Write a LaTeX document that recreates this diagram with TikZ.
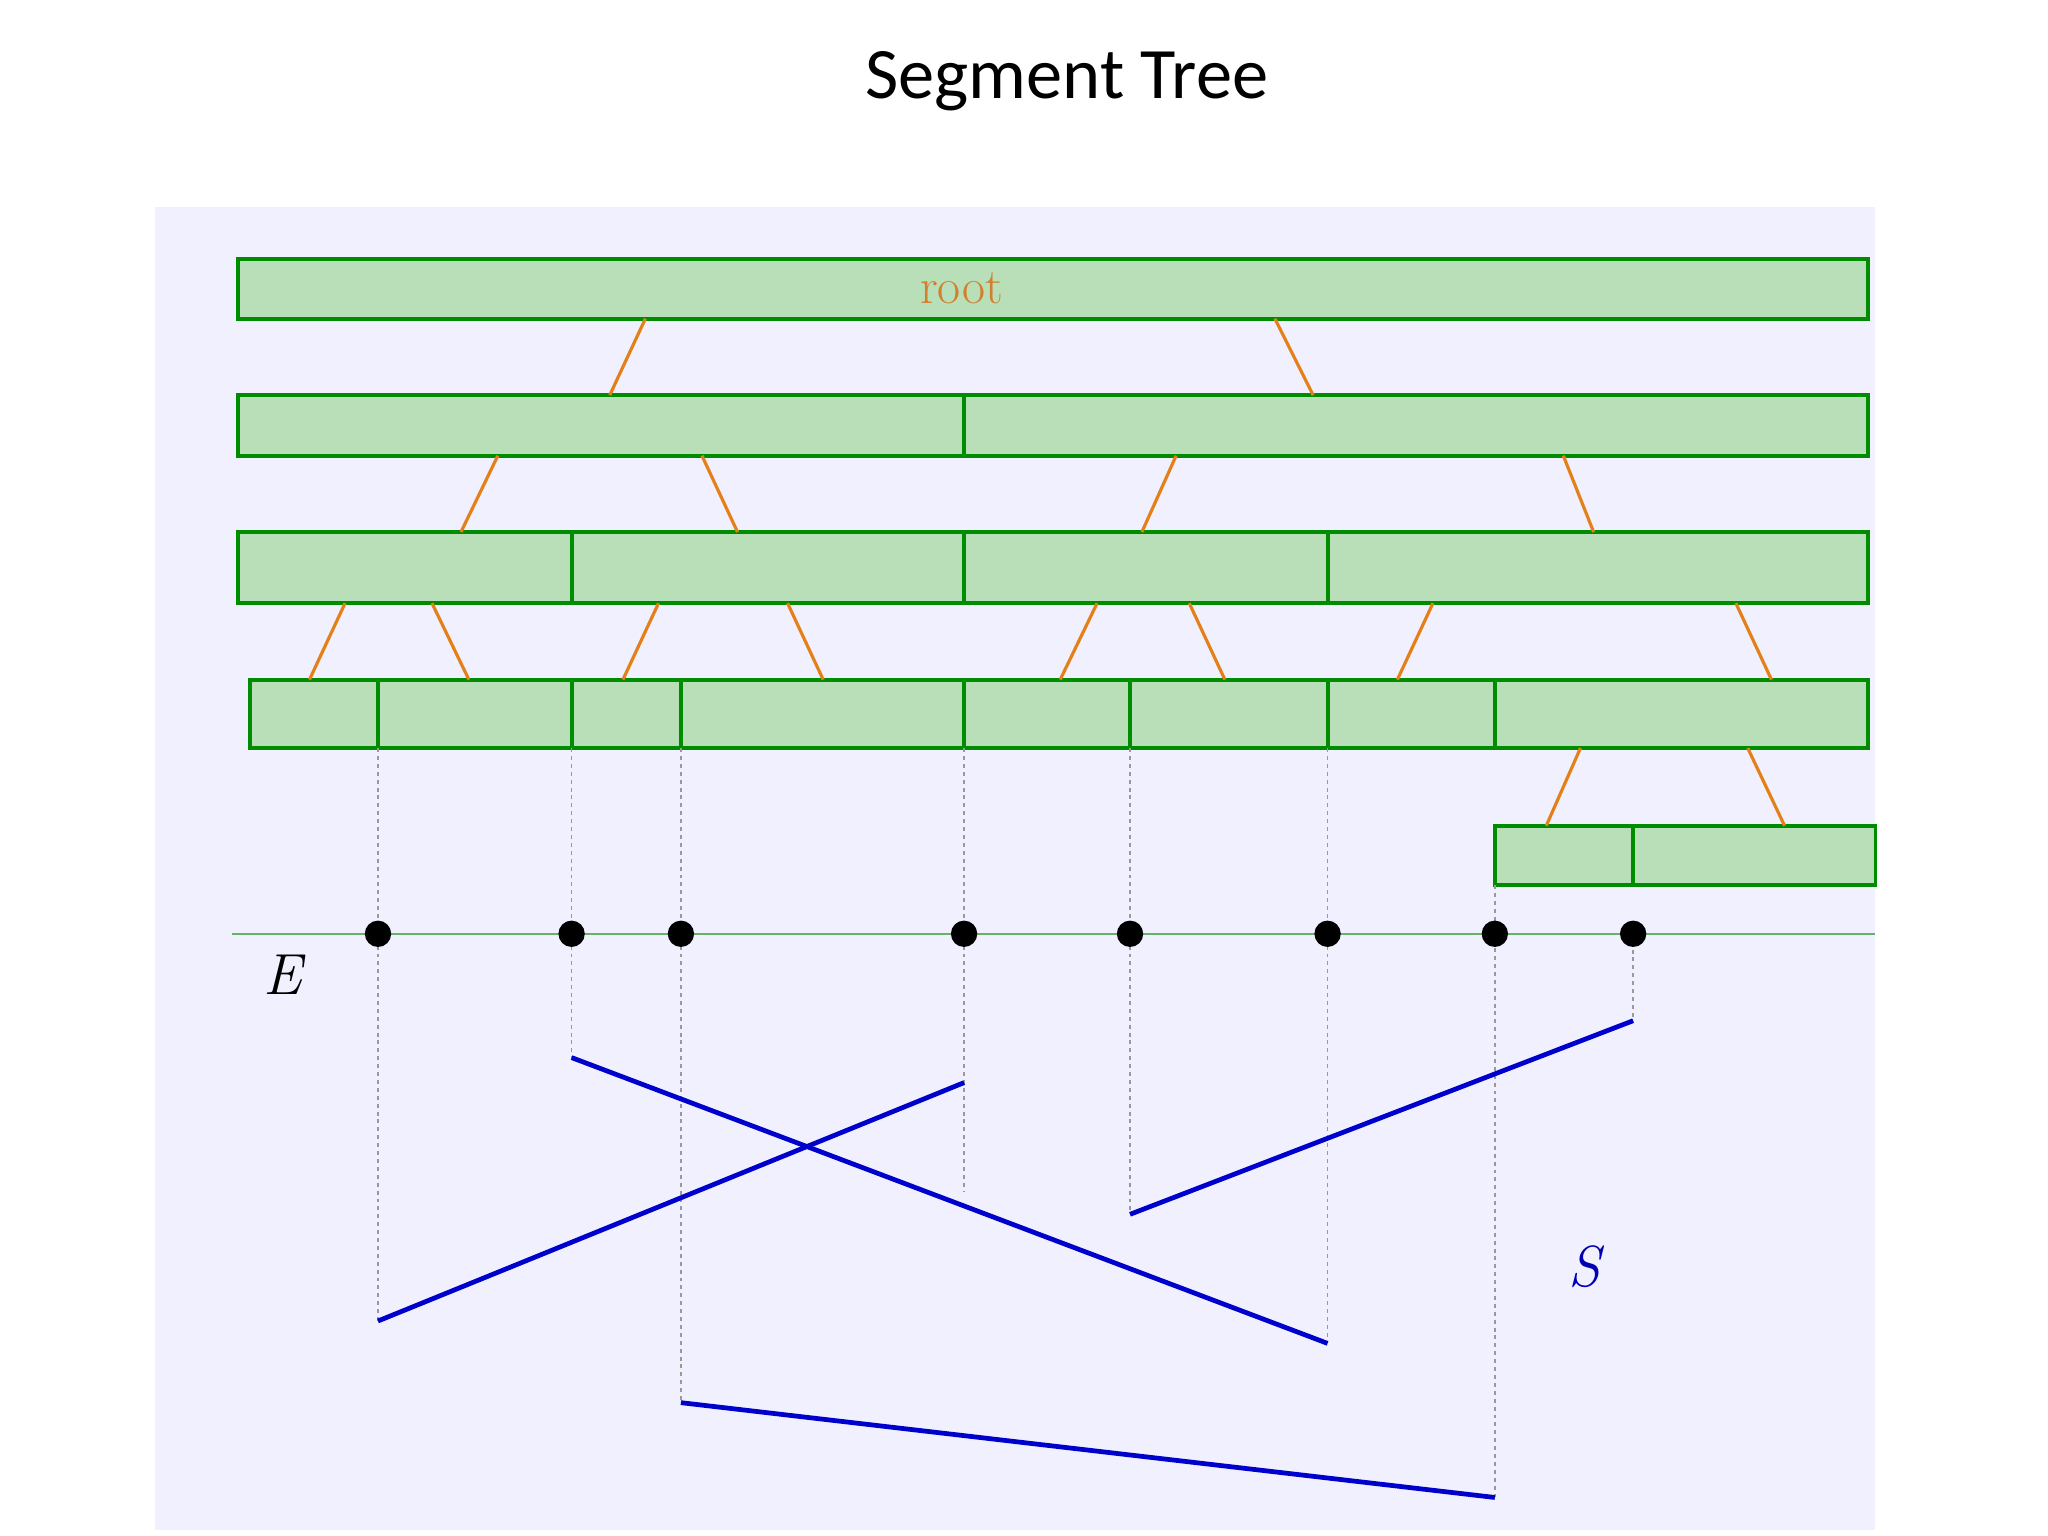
\documentclass[tikz,border=0pt]{standalone}
\usepackage{fontspec}
\newfontfamily\titlefont{Carlito}
\begin{document}
\begin{tikzpicture}[x=1pt,y=-1pt,
  bar/.style={fill=green!55!black!28!white,draw=green!55!black,line width=3pt},
  brk/.style={draw=green!55!black,line width=3pt},
  tedge/.style={draw=orange!60!brown,line width=2.4pt},
  dashv/.style={draw=gray!80,dashed,line width=1.3pt},
  seg/.style={draw=blue!80!black,line width=3.6pt},
  dot/.style={circle,fill=black,inner sep=0pt,minimum size=20pt}]
\useasboundingbox (0,0) rectangle (1555,1166);
\fill[white] (0,0) rectangle (1555,1166);
\fill[blue!6!white] (118,157) rectangle (1424,1162);
\node[font=\titlefont\fontsize{55}{64}\selectfont] (title) at (810,62) {Segment Tree};
% bars
\draw[bar] (181,197) rectangle (1418,242);
\node[text=brown!70!orange,font=\fontsize{38}{40}\selectfont] (root) at (730,219) {root};
\draw[bar] (181,300) rectangle (1418,346);
\draw[brk] (732,300)--(732,346);
\draw[bar] (181,404) rectangle (1418,458);
\foreach \x in {434,732,1008} \draw[brk] (\x,404)--(\x,458);
\draw[bar] (190,516) rectangle (1418,568);
\foreach \x in {287,434,517,732,858,1008,1135} \draw[brk] (\x,516)--(\x,568);
\draw[bar] (1135,627) rectangle (1424,672);
\draw[brk] (1240,627)--(1240,672);
% tree edges
\foreach \a/\b/\c/\d in {490/242/463/300, 968/242/997/300,
  378/346/350/404, 533/346/560/404, 893/346/867/404, 1187/346/1210/404,
  262/458/235/516, 328/458/356/516, 500/458/473/516, 598/458/625/516,
  833/458/805/516, 903/458/930/516, 1088/458/1061/516, 1318/458/1345/516,
  1200/568/1174/627, 1327/568/1355/627}
  \draw[tedge] (\a,\b)--(\c,\d);
% E line
\coordinate (eL) at (176,709); \coordinate (eR) at (1424,709);
\draw[green!50!black!60,line width=1.5pt] (eL)--(eR);
\node[font=\itshape\fontsize{44}{46}\selectfont] (E) at (215,740) {E};
% dashed lines & endpoints
\foreach \n/\x/\t/\b in {a/287/568/1003, b/434/568/803, c/517/568/1065, d/732/568/905,
  e/858/568/922, f/1008/568/1020, g/1135/672/1137, h/1240/709/775}{
  \coordinate (\n top) at (\x,\t);
  \coordinate (\n bot) at (\x,\b);
  \draw[dashv] (\n top)--(\n bot);
}
\foreach \n/\x in {a/287,b/434,c/517,d/732,e/858,f/1008,g/1135,h/1240}
  \node[dot] (dot\n) at (\x,709) {};
% segments
\coordinate (d1) at (732,822);
\draw[seg] (abot)--(d1);
\draw[seg] (bbot)--(fbot);
\draw[seg] (ebot)--(hbot);
\draw[seg] (cbot)--(gbot);
\node[text=blue!70!black,font=\itshape\fontsize{44}{46}\selectfont] (S) at (1203,962) {S};
\end{tikzpicture}
\end{document}
